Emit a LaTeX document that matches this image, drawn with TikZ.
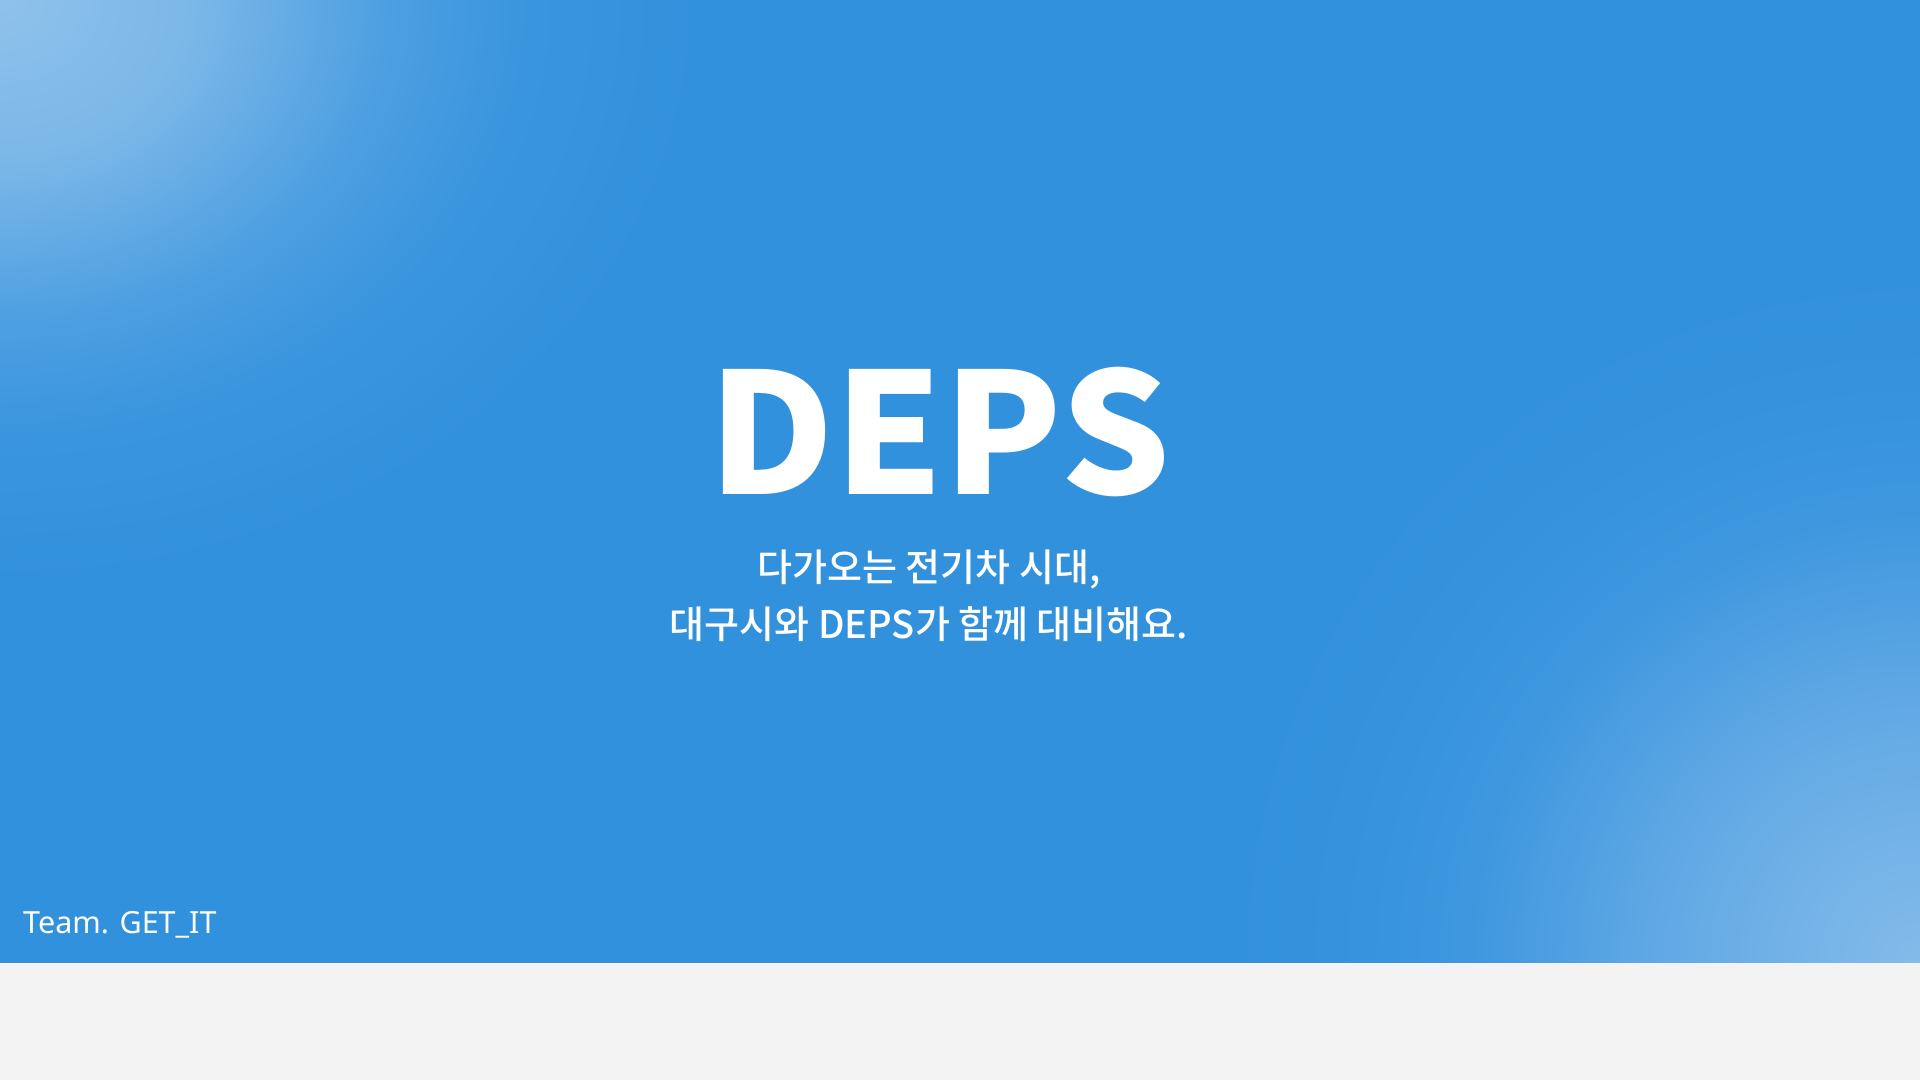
\documentclass[tikz,border=0pt]{standalone}
\usepackage{fontspec}
\newfontfamily\depsfont{Noto Sans CJK KR Black}
\newfontfamily\subfont{Noto Sans CJK KR Medium}
\newfontfamily\teamfont{Noto Sans}
\definecolor{basec}{HTML}{3291DD}
\definecolor{glowtl}{HTML}{8FC2EB}
\definecolor{glowbr}{HTML}{84BBEA}
\definecolor{pagebg}{HTML}{F3F3F3}
\colorlet{tlA}{glowtl!78!basec}
\colorlet{tlB}{glowtl!28!basec}
\colorlet{tlC}{glowtl!8!basec}
\colorlet{brA}{glowbr!57!basec}
\colorlet{brB}{glowbr!17!basec}
\colorlet{brC}{glowbr!5!basec}
\pgfdeclareradialshading{tlglow}{\pgfpoint{0bp}{0bp}}{color(0bp)=(glowtl); color(7bp)=(tlA); color(14bp)=(tlB); color(19bp)=(tlC); color(25bp)=(basec); color(50bp)=(basec)}
\pgfdeclareradialshading{brglow}{\pgfpoint{0bp}{0bp}}{color(0bp)=(glowbr); color(9.5bp)=(brA); color(16bp)=(brB); color(20bp)=(brC); color(25bp)=(basec); color(50bp)=(basec)}
\tikzset{
  deps/.style={anchor=base, font=\depsfont\fontsize{168bp}{168bp}\selectfont, inner sep=0pt, xscale=1.03},
  subline/.style={anchor=base, text=white, font=\subfont\fontsize{38bp}{45bp}\selectfont, inner sep=0pt},
  team/.style={anchor=base west, text=white, font=\teamfont\fontsize{30.5bp}{36bp}\selectfont, inner sep=0pt}
}
\begin{document}
\begin{tikzpicture}[x=1bp,y=-1bp]
\useasboundingbox (0,0) rectangle (1920,1080);
\fill[basec] (0,0) rectangle (1920,963);
\begin{scope}
  \clip (0,0) rectangle (1920,963);
  \shade[shading=tlglow] (0,0) ellipse [x radius=700, y radius=580];
  \shade[shading=brglow] (1920,963) ellipse [x radius=690, y radius=690];
\end{scope}
\fill[pagebg] (0,963) rectangle (1920,1080);
\node[deps, text=white] (title) at (940,494) {DEPS};
\node[subline] (line1) at (929,581) {다가오는 전기차 시대,};
\node[subline] (line2) at (929,638) {대구시와 DEPS가 함께 대비해요.};
\node[team] (teamname) at (23,933) {Team. GET\_IT};
\end{tikzpicture}
\end{document}
